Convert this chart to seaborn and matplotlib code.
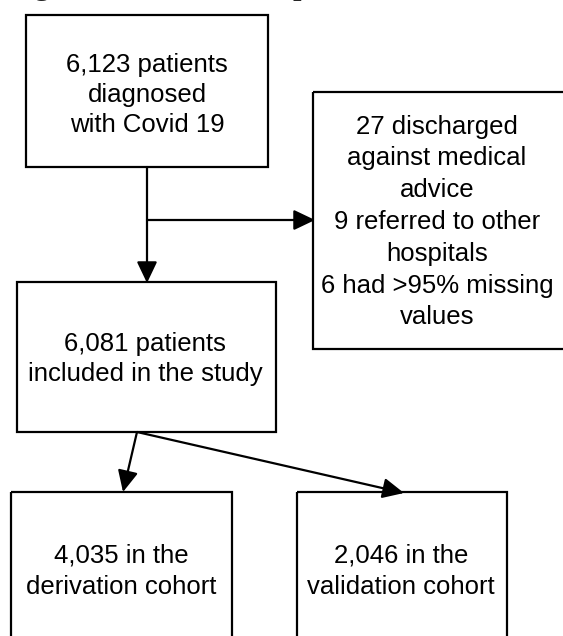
import matplotlib
matplotlib.use('Agg')
import matplotlib.pyplot as plt
import seaborn as sns
from matplotlib.patches import Rectangle

# --- Data: patient counts in the flowchart ---
n_diagnosed = 6123
excluded_counts = [27, 9, 6]
excluded_reasons = ['discharged\nagainst medical\nadvice', 'referred to other\nhospitals',
                    'had >95% missing\nvalues']
n_included = 6081
cohort_names = ['derivation cohort', 'validation cohort']
cohort_counts = [4035, 2046]

sns.set_theme(style='white')
plt.rcParams['font.family'] = ['Liberation Sans', 'DejaVu Sans']

fig = plt.figure(figsize=(5.63, 6.36), dpi=100)
ax = fig.add_axes([0, 0, 1, 1])
ax.set_xlim(0, 563)
ax.set_ylim(636, 0)
ax.axis('off')

FS = 18.5
LW = 1.6


def box(x0, y0, x1, y1, text, cx, cy, ls=1.35):
    ax.add_patch(Rectangle((x0, y0), x1 - x0, y1 - y0, fill=False, ec='black', lw=LW, clip_on=False))
    ax.text(cx, cy, text, ha='center', va='center', fontsize=FS, linespacing=ls, color='black')


def arrow(p0, p1):
    ax.annotate('', xy=p1, xytext=p0,
                arrowprops=dict(arrowstyle='-|>,head_length=1.3,head_width=0.62', mutation_scale=10,
                                color='black', lw=LW, shrinkA=0, shrinkB=0))


# title (mostly cropped off at the top, as in the source)
fig.text(8 / 563, 1 + 5 / 636, 'Figure 1 Flowchart of patients', ha='left', va='baseline',
         fontsize=21.5, fontweight='bold', family=['Liberation Serif', 'DejaVu Serif'])

box(26, 15, 268, 167, f'{n_diagnosed:,} patients\ndiagnosed\nwith Covid 19', 147, 95, ls=1.3)

excl_text = '\n'.join(f'{n} {r}' for n, r in zip(excluded_counts, excluded_reasons))
box(313, 92, 575, 349, excl_text, 437, 222, ls=1.41)

box(17, 282, 276, 432, f'{n_included:,} patients\nincluded in the study', 145, 359, ls=1.3)

box(11, 492, 232, 650, f'{cohort_counts[0]:,} in the\n{cohort_names[0]}', 121, 571, ls=1.38)
box(297, 492, 507, 650, f'{cohort_counts[1]:,} in the\n{cohort_names[1]}', 401, 571, ls=1.38)

# connectors
arrow((147, 167), (147, 283))
arrow((147, 220), (315, 220))
arrow((137, 432), (123, 492))
arrow((137, 432), (404, 493))

plt.savefig('out.png', dpi=100)
